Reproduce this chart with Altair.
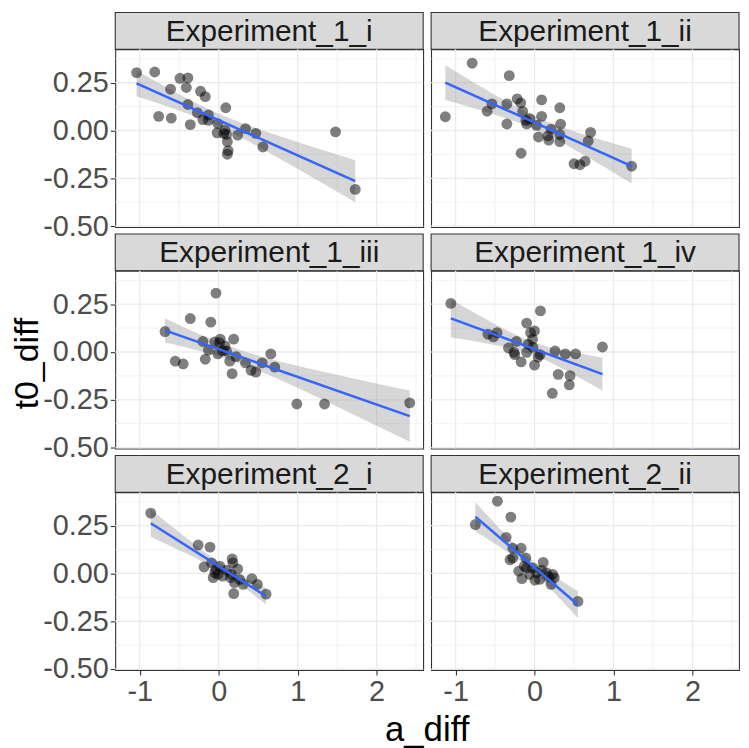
import altair as alt
import pandas as pd
import numpy as np

FONT = "Liberation Sans"

panels = ["Experiment_1_i", "Experiment_1_ii", "Experiment_1_iii",
          "Experiment_1_iv", "Experiment_2_i", "Experiment_2_ii"]

e1i_a = [-1.04, -0.81, -0.49, -0.39, -0.41, -0.61, -0.23, -0.17, -0.39, -0.76, -0.60, -0.36, -0.27, -0.20, -0.13, -0.13,
         0.09, -0.01, -0.02, 0.08, 0.10, 0.11, 0.12, 0.11, 0.24, 0.34, 0.47, 0.56, 1.48, 1.73, 0.065]
e1i_t = [0.303, 0.306, 0.273, 0.275, 0.225, 0.216, 0.205, 0.177, 0.136, 0.074, 0.065, 0.031, 0.093, 0.057, 0.082, 0.053,
         0.119, 0.036, -0.012, 0.002, -0.021, -0.058, -0.105, -0.124, -0.024, 0.010, -0.015, -0.086, -0.007, -0.308, -0.015]

e1ii_a = [-0.79, -0.32, -1.13, -0.60, -0.54, -0.35, -0.22, -0.175, -0.15, -0.35, -0.11, -0.06, -0.10, 0.025, 0.09, 0.09,
          0.32, 0.33, 0.21, 0.05, 0.17, 0.18, 0.32, -0.17, 0.71, 0.68, 0.50, 0.575, 0.64, 1.23, 0.32]
e1ii_t = [0.352, 0.287, 0.072, 0.101, 0.139, 0.139, 0.165, 0.144, 0.100, 0.034, 0.053, 0.062, 0.034, 0.027, 0.160, 0.074,
          0.119, 0.033, 0.007, -0.034, -0.028, -0.050, -0.058, -0.119, -0.010, -0.055, -0.174, -0.179, -0.161, -0.187, -0.021]

e1iii_a = [-0.035, -0.36, -0.10, -0.68, -0.20, -0.13, -0.55, -0.45, -0.17, -0.05, 0.02, 0.01, 0.08, 0.10, 0.19, 0.14,
           0.22, 0.17, 0.34, 0.41, 0.47, 0.55, 0.66, 0.71, 0.99, 1.34, 2.42, 0.05, -0.01]
e1iii_t = [0.308, 0.175, 0.156, 0.107, 0.055, 0.010, -0.048, -0.062, -0.038, 0.053, 0.067, 0.048, 0.032, 0.004, 0.067, -0.048,
           -0.024, -0.113, -0.057, -0.096, -0.105, -0.057, -0.010, -0.079, -0.272, -0.272, -0.266, 0.007, -0.010]

e1iv_a = [-1.06, 0.075, -0.10, 0.00, -0.05, -0.025, -0.59, -0.475, -0.52, -0.23, -0.08, -0.33, -0.25, -0.26, -0.10, -0.17,
          0.00, 0.045, 0.07, 0.26, 0.39, 0.52, 0.86, 0.30, 0.45, 0.44, 0.225, -0.02]
e1iv_t = [0.254, 0.215, 0.151, 0.110, 0.101, 0.067, 0.093, 0.101, 0.079, 0.055, 0.041, 0.021, -0.014, -0.002, -0.002, -0.052,
          -0.069, -0.027, -0.014, 0.005, -0.010, -0.010, 0.026, -0.117, -0.124, -0.172, -0.216, 0.024]

e2i_a = [-0.86, -0.26, -0.11, -0.185, -0.09, -0.035, -0.07, -0.01, 0.015, 0.10, 0.17, 0.18, 0.24, 0.15, 0.20, 0.31,
         0.19, 0.42, 0.49, 0.60, -0.05, 0.05, 0.265, 0.16]
e2i_t = [0.316, 0.149, 0.138, 0.034, 0.055, 0.021, -0.022, -0.005, 0.038, 0.017, 0.076, 0.055, 0.024, -0.022, -0.048, -0.057,
         -0.105, -0.027, -0.057, -0.108, 0.004, -0.014, -0.031, -0.005]

e2ii_a = [-0.47, -0.30, -0.75, -0.36, -0.275, -0.17, -0.31, -0.275, -0.11, -0.10, -0.20, -0.16, -0.025, 0.005, 0.025, 0.11,
          0.09, 0.15, 0.23, 0.25, 0.21, 0.55, -0.06, 0.065, 0.18, -0.13]
e2ii_t = [0.378, 0.295, 0.256, 0.189, 0.132, 0.132, 0.072, 0.081, 0.081, 0.029, 0.012, -0.027, 0.029, -0.035, 0.004, 0.058,
          0.017, 0.004, -0.005, -0.022, -0.057, -0.146, -0.005, -0.031, -0.017, 0.038]

series = [(e1i_a, e1i_t), (e1ii_a, e1ii_t), (e1iii_a, e1iii_t),
          (e1iv_a, e1iv_t), (e2i_a, e2i_t), (e2ii_a, e2ii_t)]

x_major = [-1, 0, 1, 2]
x_minor = [-0.5, 0.5, 1.5, 2.5]
y_major = [-0.5, -0.25, 0.0, 0.25]
y_minor = [-0.375, -0.125, 0.125, 0.375]

X_DOMAIN = [-1.31, 2.59]
Y_DOMAIN = [-0.505, 0.425]

W = 310      # panel width
H = 179      # panel height
SH = 37      # strip height
GAP = 7      # vertical gap between rows

MINUS = "\u2212"


def t975(df):
    z = 1.959964
    return (z + (z ** 3 + z) / (4 * df) + (5 * z ** 5 + 16 * z ** 3 + 3 * z) / (96 * df ** 2)
            + (3 * z ** 7 + 19 * z ** 5 + 17 * z ** 3 - 15 * z) / (384 * df ** 3))


def conf_band(a, t):
    a = np.asarray(a, dtype=float)
    t = np.asarray(t, dtype=float)
    n = len(a)
    b1, b0 = np.polyfit(a, t, 1)
    xs = np.linspace(a.min(), a.max(), 80)
    fit = b0 + b1 * xs
    resid = t - (b0 + b1 * a)
    s = np.sqrt((resid ** 2).sum() / (n - 2))
    sxx = ((a - a.mean()) ** 2).sum()
    se = s * np.sqrt(1.0 / n + (xs - a.mean()) ** 2 / sxx)
    q = t975(n - 2)
    return pd.DataFrame({"a_diff": xs, "lo": fit - q * se, "hi": fit + q * se})


xscale = alt.Scale(domain=X_DOMAIN, nice=False, zero=False)
yscale = alt.Scale(domain=Y_DOMAIN, nice=False, zero=False)


def make_plot(idx, show_x, show_y, ytitle, xtitle):
    a, t = series[idx]
    pts = pd.DataFrame({"a_diff": a, "t0_diff": t})
    band = conf_band(a, t)

    if show_x:
        xaxis = alt.Axis(values=x_major, labelExpr=f"replace(format(datum.value, 'd'), '{MINUS}', '-')",
                         labelFont=FONT, labelFontSize=29, labelColor="#4D4D4D",
                         tickColor="#333333", tickSize=5, tickWidth=1.1, labelPadding=3,
                         domain=False, grid=False, title=None, labelFlush=False, labelOverlap=False)
    else:
        xaxis = None
    if show_y:
        yaxis = alt.Axis(values=y_major, labelExpr=f"replace(format(datum.value, '.2f'), '{MINUS}', '-')",
                         labelFont=FONT, labelFontSize=29, labelColor="#4D4D4D",
                         tickColor="#333333", tickSize=5, tickWidth=1.1, labelPadding=2,
                         domain=False, grid=False, title=None, labelFlush=False, labelOverlap=False)
    else:
        yaxis = None

    def X(f):
        return alt.X(f, type="quantitative", scale=xscale, axis=xaxis)

    def Y(f):
        return alt.Y(f, type="quantitative", scale=yscale, axis=yaxis)

    layers = [
        alt.Chart(pd.DataFrame({"v": x_minor})).mark_rule(color="#EBEBEB", strokeWidth=0.7).encode(x=X("v")),
        alt.Chart(pd.DataFrame({"v": y_minor})).mark_rule(color="#EBEBEB", strokeWidth=0.7).encode(y=Y("v")),
        alt.Chart(pd.DataFrame({"v": x_major})).mark_rule(color="#EBEBEB", strokeWidth=1.3).encode(x=X("v")),
        alt.Chart(pd.DataFrame({"v": y_major})).mark_rule(color="#EBEBEB", strokeWidth=1.3).encode(y=Y("v")),
        alt.Chart(band).mark_area(color="#999999", opacity=0.4).encode(x=X("a_diff"), y=Y("lo"), y2="hi"),
        alt.Chart(pts).mark_circle(color="black", opacity=0.5, size=120).encode(x=X("a_diff"), y=Y("t0_diff")),
        alt.Chart(pts).transform_regression("a_diff", "t0_diff").mark_line(color="#3366FF", strokeWidth=2.5)
        .encode(x=X("a_diff"), y=Y("t0_diff")),
    ]
    if ytitle:
        layers.append(
            alt.Chart(pd.DataFrame({"lab": ["t0_diff"]})).mark_text(
                font=FONT, fontSize=34, color="black", angle=270, align="center", baseline="middle"
            ).encode(text="lab:N", x=alt.value(-88), y=alt.value(H / 2 + 4))
        )
    if xtitle:
        layers.append(
            alt.Chart(pd.DataFrame({"lab": ["a_diff"]})).mark_text(
                font=FONT, fontSize=35, color="black", align="center", baseline="middle"
            ).encode(text="lab:N", x=alt.value(W + 4), y=alt.value(H + 60))
        )
    return alt.layer(*layers).properties(
        width=W, height=H,
        view=alt.ViewBackground(fill="white", stroke="#333333", strokeWidth=1.1),
    )


def make_strip(idx, top_gap):
    df = pd.DataFrame({"lab": [panels[idx]]})
    rect = alt.Chart(df).mark_rect(fill="#D9D9D9", stroke="#333333", strokeWidth=1.1).encode(
        x=alt.value(0), x2=alt.value(W), y=alt.value(top_gap), y2=alt.value(top_gap + SH)
    )
    txt = alt.Chart(df).mark_text(font=FONT, fontSize=30, color="#1A1A1A", align="center",
                                  baseline="middle").encode(
        text="lab:N", x=alt.value(W / 2), y=alt.value(top_gap + SH / 2 + 1)
    )
    return alt.layer(rect, txt).properties(
        width=W, height=top_gap + SH,
        view=alt.ViewBackground(stroke="transparent", fill="transparent"),
    )


cells = []
for r in range(3):
    gap = 0 if r == 0 else GAP
    cells.append(make_strip(2 * r, gap))
    cells.append(make_strip(2 * r + 1, gap))
    for c in range(2):
        idx = 2 * r + c
        cells.append(make_plot(idx, show_x=(r == 2), show_y=(c == 0),
                               ytitle=(r == 1 and c == 0), xtitle=(r == 2 and c == 0)))

chart = alt.concat(*cells, columns=2, spacing={"row": 0, "column": 8}, bounds="flush").properties(
    padding={"left": 2, "top": 0, "right": 0, "bottom": 0}, background="white"
)

chart.save("out.html", embed_options={"renderer": "svg", "actions": False})
